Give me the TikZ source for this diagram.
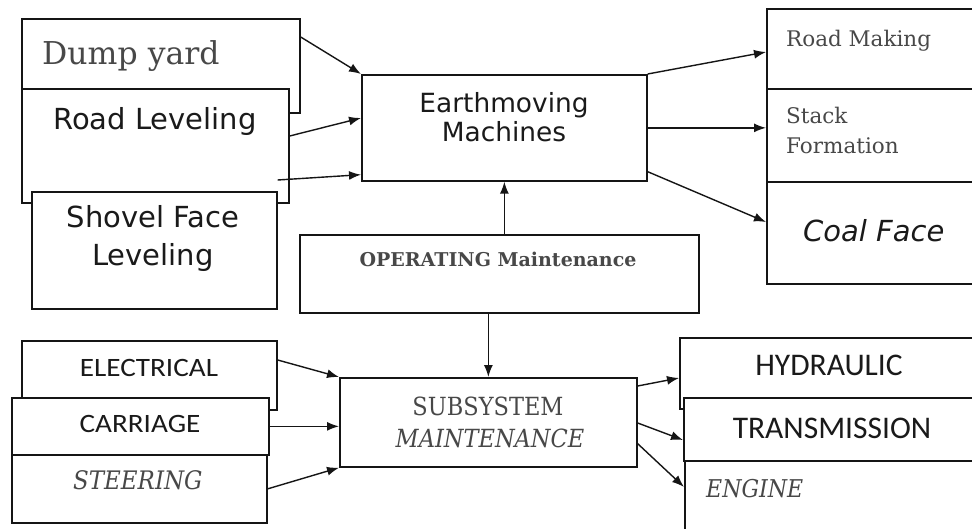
\documentclass[tikz,border=0pt]{standalone}
\usepackage{fontspec}
\usetikzlibrary{arrows.meta}
\setmainfont{DejaVu Serif}
\newfontfamily\serifnarrow[FakeStretch=0.9]{DejaVu Serif}
\newfontfamily\verd{DejaVu Sans}
\newfontfamily\caliwide[FakeStretch=1.1]{Carlito}
\newfontfamily\cali{Carlito}
\definecolor{linecol}{HTML}{151515}
\definecolor{serifcol}{HTML}{484848}
\definecolor{sanscol}{HTML}{1A1A1A}

\begin{document}
\begin{tikzpicture}[x=1pt,y=-1pt,
  box/.style={draw=linecol,line width=1.7pt,fill=white,inner sep=0pt,anchor=north west},
  flow/.style={draw=linecol,line width=1.4pt,-{Latex[length=12pt,width=9pt]}},
  serif/.style={inner sep=0pt,text=serifcol},
  sans/.style={inner sep=0pt,text=sanscol}]
\fill[white] (0,0) rectangle (972,529);
\path[use as bounding box,clip] (0,0) rectangle (972,529);

% boxes, top half
\node[box,minimum width=278pt,minimum height=94pt] (dump) at (21,18) {};
\node[box,minimum width=267pt,minimum height=114pt] (road) at (21,88) {};
\node[box,minimum width=245pt,minimum height=117pt] (shovel) at (31,191) {};
\node[box,minimum width=285pt,minimum height=106pt] (earth) at (361,74) {};
\node[box,minimum width=399pt,minimum height=78pt] (oper) at (299,234) {};
\node[box,minimum width=214pt,minimum height=80pt] (roadmk) at (766,8) {};
\node[box,minimum width=214pt,minimum height=93pt] (stack) at (766,88) {};
\node[box,minimum width=214pt,minimum height=102pt] (coal) at (766,181) {};

% boxes, bottom half
\node[box,minimum width=255pt,minimum height=69pt] (elec) at (21,340) {};
\node[box,minimum width=257pt,minimum height=57pt] (carr) at (11,397) {};
\node[box,minimum width=255pt,minimum height=68pt] (steer) at (11,454) {};
\node[box,minimum width=297pt,minimum height=89pt] (subsys) at (339,377) {};
\node[box,minimum width=301pt,minimum height=71pt] (hydr) at (679,337) {};
\node[box,minimum width=297pt,minimum height=63pt] (trans) at (683,397) {};
\node[box,minimum width=296pt,minimum height=80pt] (engine) at (684,460) {};

% texts
\node[serif,anchor=base west,font=\fontsize{31.5}{38}\selectfont] (dumpt) at (42,65) {Dump yard};
\node[sans,anchor=base west,font=\verd\fontsize{29}{34}\selectfont] (roadt) at (53,130) {Road Leveling};
\node[sans,align=center,font=\verd\fontsize{29}{38}\selectfont] (shovelt) at (153,239) {Shovel Face\\Leveling};
\node[sans,align=center,font=\verd\fontsize{26.4}{29}\selectfont] (eartht) at (504,117) {Earthmoving\\Machines};
\node[serif,anchor=base,font=\bfseries\fontsize{19}{23}\selectfont] (opert) at (498,267) {OPERATING Maintenance};
\node[serif,anchor=base west,font=\fontsize{21.5}{26}\selectfont] (roadmkt) at (786,47) {Road Making};
\node[serif,anchor=north west,align=left,font=\fontsize{21.5}{30}\selectfont] (stackt) at (786,107) {Stack\\Formation};
\node[sans,anchor=base west,font=\verd\itshape\fontsize{29}{34}\selectfont] (coalt) at (803,242) {Coal Face};

\node[sans,anchor=base,font=\caliwide\fontsize{26.5}{32}\selectfont] (elect) at (149,376) {ELECTRICAL};
\node[sans,anchor=base,font=\caliwide\fontsize{26.5}{32}\selectfont] (carrt) at (140,432) {CARRIAGE};
\node[serif,anchor=base west,font=\serifnarrow\itshape\fontsize{25.5}{30}\selectfont] (steert) at (73,489) {STEERING};
\node[serif,anchor=base,font=\serifnarrow\fontsize{25}{30}\selectfont] (subsyst) at (488,415) {SUBSYSTEM};
\node[serif,anchor=base,font=\serifnarrow\itshape\fontsize{25}{30}\selectfont] (maintt) at (490,447) {MAINTENANCE};
\node[sans,anchor=base,font=\cali\fontsize{31.5}{36}\selectfont] (hydrt) at (829,375) {HYDRAULIC};
\node[sans,anchor=base,font=\cali\fontsize{31.5}{36}\selectfont] (transt) at (832,438) {TRANSMISSION};
\node[serif,anchor=base west,font=\serifnarrow\itshape\fontsize{24.5}{30}\selectfont] (enginet) at (706,497) {ENGINE};

% arrows
\draw[flow] ([yshift=-19pt]dump.north east) -- (earth.north west);
\draw[flow] ([yshift=-48pt]road.north east) -- ([yshift=-44pt]earth.north west);
\draw[flow] ([yshift=11pt]shovel.north east) -- ([yshift=7pt]earth.south west);
\draw[flow] (earth.north east) -- ([yshift=-44pt]roadmk.north west);
\draw[flow] (earth.east) -- (earth.east -| stack.west);
\draw[flow] ([yshift=10pt]earth.south east) -- ([yshift=-41pt]coal.north west);
\draw[flow] (oper.north -| earth.south) -- (earth.south);
\draw[flow] (oper.south -| subsys.north) -- (subsys.north);

\draw[flow] ([yshift=-20pt]elec.north east) -- (subsys.north west);
\draw[flow] (carr.east) -- (carr.east -| subsys.west);
\draw[flow] (steer.east) -- (subsys.south west);
\draw[flow] ([yshift=-9pt]subsys.north east) -- ([yshift=-41pt]hydr.north west);
\draw[flow] ([yshift=-46pt]subsys.north east) -- ([yshift=-43pt]trans.north west);
\draw[flow] ([yshift=24pt]subsys.south east) -- ([yshift=-27pt]engine.north west);
\end{tikzpicture}
\end{document}
